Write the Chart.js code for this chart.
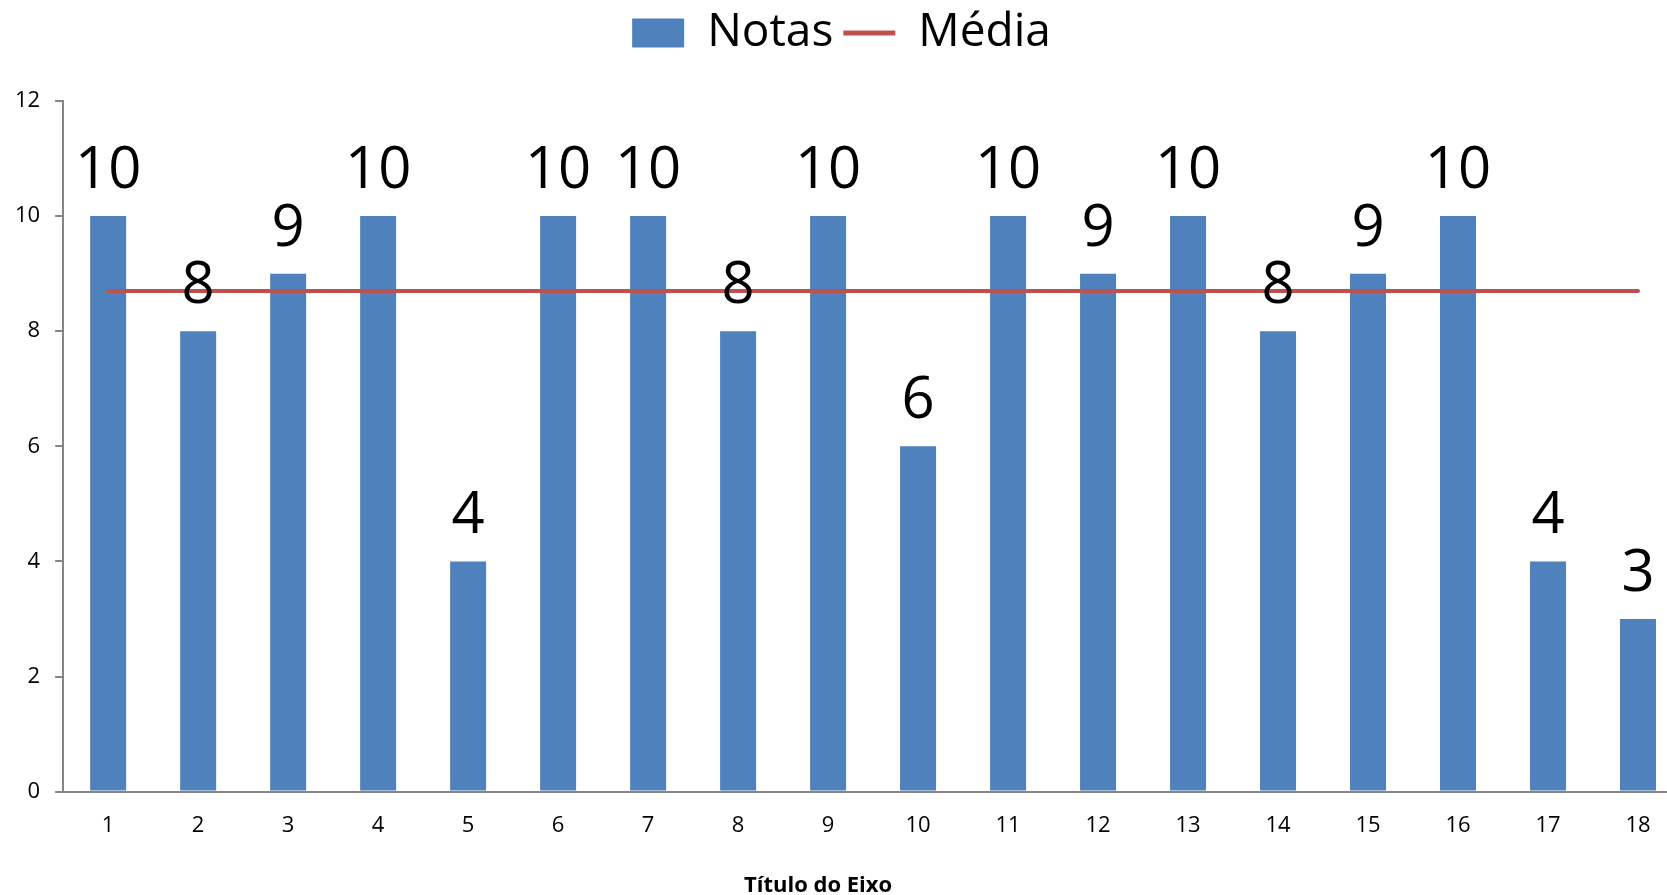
<!DOCTYPE html>
<html>
<head>
<meta charset="utf-8">
<script src="https://cdn.jsdelivr.net/npm/chart.js@4/dist/chart.umd.min.js"></script>
<style>
  html, body { margin: 0; padding: 0; background: #fff; overflow: hidden; }
  #wrap { width: 1684px; height: 895px; }
</style>
</head>
<body>
<div id="wrap"><canvas id="chart" width="1684" height="895"></canvas></div>
<script>
const categories = ['1', '2', '3', '4', '5', '6', '7', '8', '9', '10', '11', '12', '13', '14', '15', '16', '17', '18'];
const notas = [10, 8, 9, 10, 4, 10, 10, 8, 10, 6, 10, 9, 10, 8, 9, 10, 4, 3];
const media = [8.7, 8.7, 8.7, 8.7, 8.7, 8.7, 8.7, 8.7, 8.7, 8.7, 8.7, 8.7, 8.7, 8.7, 8.7, 8.7, 8.7, 8.7];
const yTicks = [0, 2, 4, 6, 8, 10, 12];
const axisTitle = 'Título do Eixo';

const FONT = "'Open Sans', 'Liberation Sans', sans-serif";
const axisGray = '#868686';

// value labels above the bars
const barLabels = {
  id: 'barLabels',
  afterDatasetsDraw(chart) {
    const meta = chart.getDatasetMeta(0);
    const ctx = chart.ctx;
    ctx.save();
    ctx.font = `58px ${FONT}`;
    ctx.fillStyle = '#000';
    ctx.textAlign = 'center';
    ctx.textBaseline = 'alphabetic';
    meta.data.forEach((bar, i) => {
      ctx.fillText(String(notas[i]), bar.x, bar.y - 28);
    });
    ctx.restore();
  }
};

// extra room between legend and plot
const legendGap = {
  id: 'legendGap',
  beforeInit(chart) {
    const fit = chart.legend.fit;
    chart.legend.fit = function () {
      fit.bind(chart.legend)();
      this.height += 35;
    };
  }
};

// axis title (sits a bit left of the plot centre, like the original)
const xTitle = {
  id: 'xTitle',
  afterDraw(chart) {
    const ctx = chart.ctx;
    const area = chart.chartArea;
    ctx.save();
    ctx.font = `bold 22px ${FONT}`;
    ctx.fillStyle = '#000';
    ctx.textAlign = 'center';
    ctx.textBaseline = 'alphabetic';
    ctx.fillText(axisTitle, (area.left + area.right) / 2 - 55, chart.height - 3);
    ctx.restore();
  }
};

const ctx = document.getElementById('chart').getContext('2d');
new Chart(ctx, {
  type: 'bar',
  data: {
    labels: categories,
    datasets: [
      {
        label: 'Notas',
        data: notas,
        backgroundColor: '#4F81BD',
        borderWidth: 0,
        barPercentage: 0.4,
        categoryPercentage: 1,
        order: 1
      },
      {
        type: 'line',
        label: 'Média',
        data: media,
        borderColor: '#C0504D',
        backgroundColor: '#C0504D',
        borderWidth: 4,
        borderCapStyle: 'round',
        pointRadius: 0,
        pointStyle: 'line',
        order: 0
      }
    ]
  },
  options: {
    responsive: false,
    devicePixelRatio: 1,
    animation: false,
    layout: { padding: { top: 0, left: 0, right: 1, bottom: 35 } },
    scales: {
      x: {
        grid: { display: false, drawTicks: false },
        border: { color: axisGray, width: 2 },
        ticks: { color: '#000', font: { family: FONT, size: 22 }, padding: 21, maxRotation: 0 }
      },
      y: {
        min: 0,
        max: 12,
        afterBuildTicks(scale) { scale.ticks = yTicks.map(v => ({ value: v })); },
        grid: { drawOnChartArea: false, drawTicks: true, tickLength: 8, color: axisGray, lineWidth: 2 },
        border: { color: axisGray, width: 2 },
        ticks: { color: '#000', font: { family: FONT, size: 22 }, padding: 15 }
      }
    },
    plugins: {
      tooltip: { enabled: false },
      legend: {
        position: 'top',
        labels: {
          color: '#000',
          font: { family: FONT, size: 46, lineHeight: 0.85 },
          usePointStyle: true,
          pointStyleWidth: 52,
          boxHeight: 29,
          padding: 10,
          generateLabels(chart) {
            const items = Chart.defaults.plugins.legend.labels.generateLabels(chart);
            items.forEach(it => {
              if (it.datasetIndex === 0) { it.pointStyle = 'rect'; it.lineWidth = 0; }
              else { it.pointStyle = 'line'; it.lineWidth = 5; it.strokeStyle = '#C0504D'; }
            });
            return items;
          },
          sort: (a, b) => a.datasetIndex - b.datasetIndex
        }
      }
    }
  },
  plugins: [barLabels, xTitle, legendGap]
});
</script>
</body>
</html>
